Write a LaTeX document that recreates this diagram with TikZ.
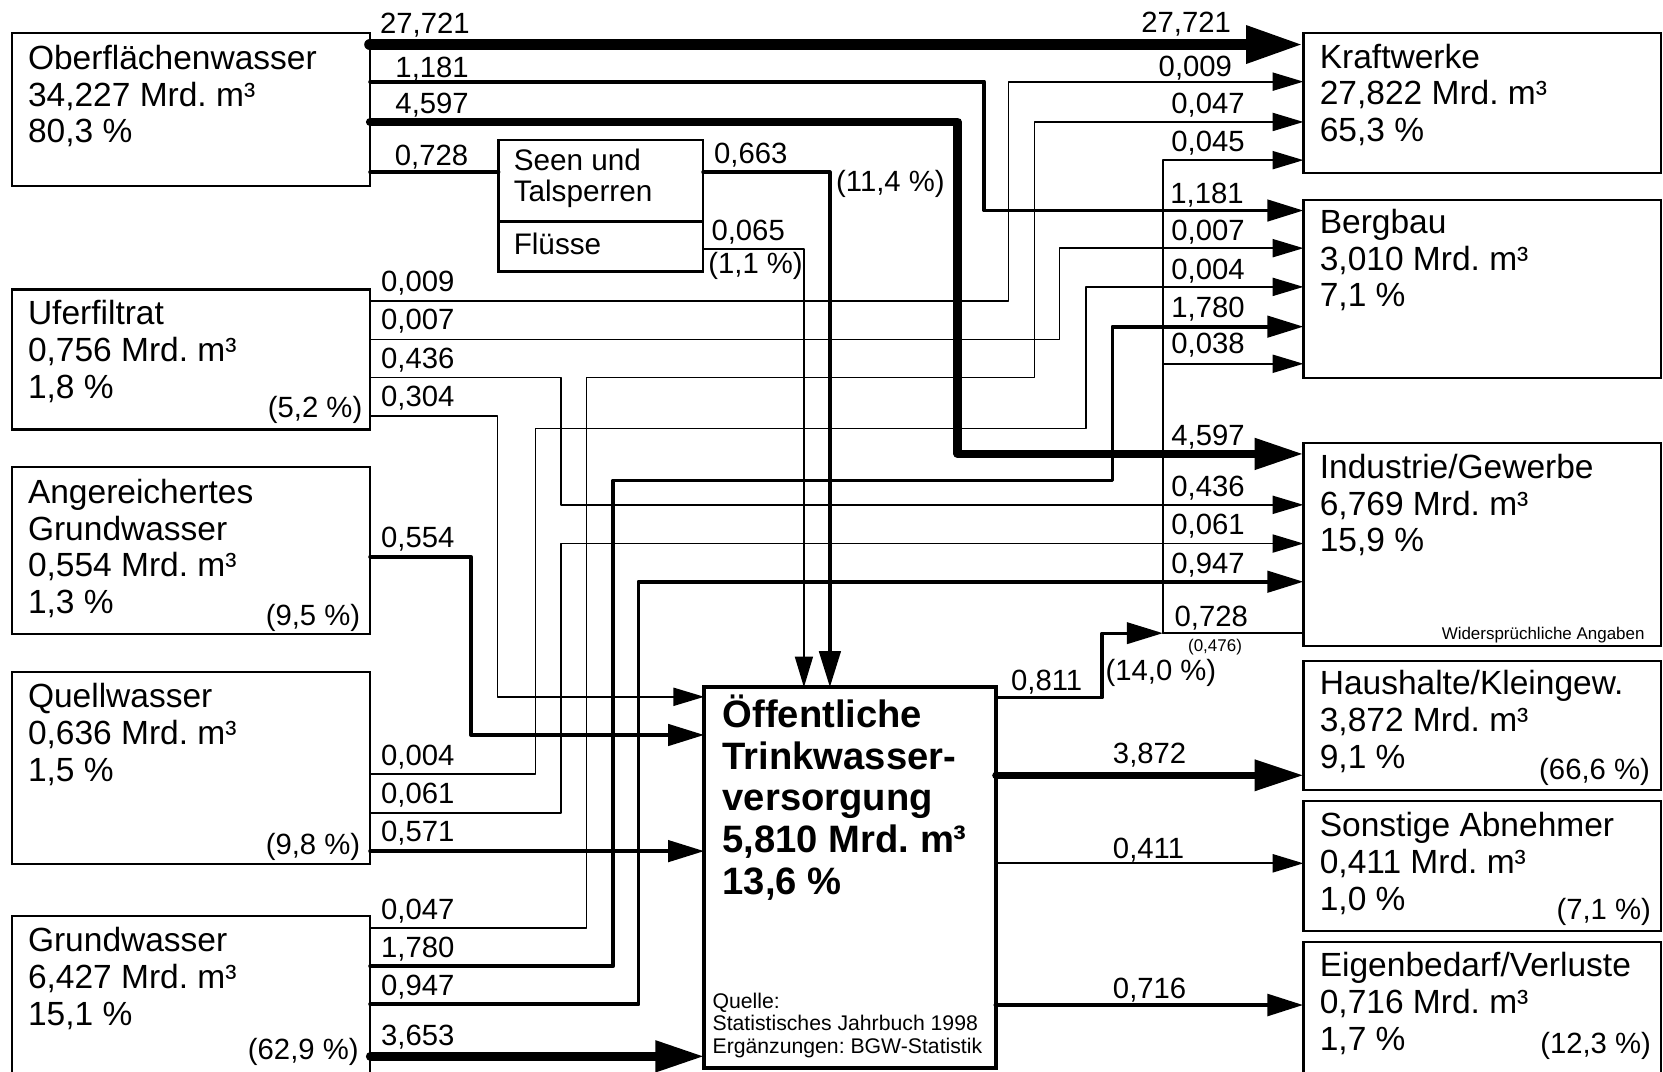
\documentclass[tikz,border=0pt]{standalone}
\usepackage{fontspec}
\setmainfont{Liberation Sans}
\usetikzlibrary{arrows.meta}
\frenchspacing
\newcommand{\blines}[1]{\begin{tabular}[t]{@{}l@{}}#1\end{tabular}}
\tikzset{
  box/.style={draw, line width=1pt, inner sep=0pt, outer sep=0pt, anchor=north west, minimum width=169pt},
  rbox/.style={box, minimum width=168.5pt},
  btxt/.style={font=\fontsize{15.8}{17.3}\selectfont, inner sep=0pt, anchor=base west},
  lab/.style={font=\fontsize{13.8}{15}\selectfont, inner sep=0pt, anchor=base west},
  labr/.style={lab, anchor=base east},
  smalltxt/.style={font=\fontsize{8}{9}\selectfont, inner sep=0pt},
  cA/.style={line width=0.8pt, line cap=round, line join=round},
  cB/.style={line width=1.8pt, line cap=round, line join=round},
  cC/.style={line width=4pt, line cap=round, line join=round},
  cD/.style={line width=5.6pt, line cap=round, line join=round},
  tA/.style={-{Triangle[length=14.5pt,width=8.5pt]}},
  tB/.style={-{Triangle[length=17pt,width=10pt]}},
  tC/.style={-{Triangle[length=23pt,width=14pt]}},
  tD/.style={-{Triangle[length=27pt,width=16.5pt]}},
}
\begin{document}
\begin{tikzpicture}[x=0.5pt,y=-0.5pt]
\useasboundingbox (0,0) rectangle (1568,1010);
\clip (0,0) rectangle (1568,1010);

% ---------- left boxes ----------
\node[box, minimum height=72pt] (ow) at (11,31) {};
\node[btxt] (owt) at (26,65.4) {\blines{Oberflächenwasser\\34,227 Mrd. m³\\80,3 \%}};
\node[box, minimum height=66pt] (uf) at (11,273) {};
\node[btxt] (uft) at (26,306.4) {\blines{Uferfiltrat\\0,756 Mrd. m³\\1,8 \%}};
\node[box, minimum height=79pt] (ag) at (11,440) {};
\node[btxt] (agt) at (26,474.6) {\blines{Angereichertes\\Grundwasser\\0,554 Mrd. m³\\1,3 \%}};
\node[box, minimum height=90.5pt] (qw) at (11,634) {};
\node[btxt] (qwt) at (26,667.4) {\blines{Quellwasser\\0,636 Mrd. m³\\1,5 \%}};
\node[box, minimum height=90pt] (gw) at (11,864) {};
\node[btxt] (gwt) at (26,897.3) {\blines{Grundwasser\\6,427 Mrd. m³\\15,1 \%}};

\node[labr] (p1) at (342,393.5) {(5,2 \%)};
\node[labr] (p2) at (340,589.3) {(9,5 \%)};
\node[labr] (p3) at (340,806) {(9,8 \%)};
\node[labr] (p4) at (338.5,999.4) {(62,9 \%)};

% ---------- Seen / Fluesse ----------
\node[box, minimum width=96.5pt, minimum height=38.5pt] (st) at (470,132) {};
\node[box, minimum width=96.5pt, minimum height=23.5pt] (fl) at (470,209) {};
\draw[line width=1.6pt] (st.south west) -- (st.south east);
\node[font=\fontsize{14}{15}\selectfont, inner sep=0pt, anchor=base west] (stt) at (484,160.3) {\blines{Seen und\\Talsperren}};
\node[font=\fontsize{14}{15}\selectfont, inner sep=0pt, anchor=base west] (flt) at (484,239.5) {Flüsse};

% ---------- central box ----------
\node[box, line width=2pt, minimum width=137.5pt, minimum height=179.5pt] (oe) at (664,648) {};
\node[font=\bfseries\fontsize{18}{19.65}\selectfont, inner sep=0pt, anchor=base west] (oet) at (681,686)
  {\blines{Öffentliche\\Trinkwasser-\\versorgung\\5,810 Mrd. m³\\13,6 \%}};
\node[font=\fontsize{10}{10.6}\selectfont, inner sep=0pt, anchor=base west] (src) at (671.5,950.7)
  {\blines{Quelle:\\Statistisches Jahrbuch 1998\\Ergänzungen: BGW-Statistik}};

% ---------- right boxes ----------
\node[rbox, minimum height=66pt] (kw) at (1229,31) {};
\node[btxt] (kwt) at (1244,64.4) {\blines{Kraftwerke\\27,822 Mrd. m³\\65,3 \%}};
\node[rbox, minimum height=84pt] (bb) at (1229,188.6) {};
\node[btxt] (bbt) at (1244,220) {\blines{Bergbau\\3,010 Mrd. m³\\7,1 \%}};
\node[rbox, minimum height=96pt] (ig) at (1229,417.4) {};
\node[btxt] (igt) at (1244,451) {\blines{Industrie/Gewerbe\\6,769 Mrd. m³\\15,9 \%}};
\node[smalltxt, anchor=base east] (igw) at (1551,603.4) {Widersprüchliche Angaben};
\node[rbox, minimum height=61pt] (hh) at (1229,623) {};
\node[btxt] (hht) at (1244,655) {\blines{Haushalte/Kleingew.\\3,872 Mrd. m³\\9,1 \%}};
\node[labr] (p5) at (1556,735.4) {(66,6 \%)};
\node[rbox, minimum height=61.2pt] (sa) at (1229,755.2) {};
\node[btxt] (sat) at (1244,788.9) {\blines{Sonstige Abnehmer\\0,411 Mrd. m³\\1,0 \%}};
\node[labr] (p6) at (1557,867.4) {(7,1 \%)};
\node[rbox, minimum height=80pt] (eb) at (1229,888) {};
\node[btxt] (ebt) at (1244,920.9) {\blines{Eigenbedarf/Verluste\\0,716 Mrd. m³\\1,7 \%}};
\node[labr] (p7) at (1557,993) {(12,3 \%)};

% ---------- junctions ----------
\coordinate (j1) at (1096.5,597);
\coordinate (j2) at (1096.5,343);

% ---------- connectors: Oberflaechenwasser ----------
\draw[cD, tD] (ow.east |- 0,42) -- (kw.west |- 0,42);
\draw[cB, tB] (ow.east |- 0,77) -- (928,77) -- (928,198.5) -- (bb.west |- 0,198.5);
\draw[cC, tC] (ow.east |- 0,115) -- (903,115) -- (903,428) -- (ig.west |- 0,428);
\draw[cB] (ow.east |- 0,162.5) -- (st.west |- 0,162.5);
\draw[cB, tB] (st.east |- 0,162.5) -- (782.5,162.5) -- (oe.north -| 782.5,0);
\draw[cA, tA] (fl.east |- 0,235) -- (758,235) -- (oe.north -| 758,0);

% ---------- Uferfiltrat ----------
\draw[cA, tA] (uf.east |- 0,283.5) -- (951,283.5) -- (951,77) -- (kw.west |- 0,77);
\draw[cA, tA] (uf.east |- 0,320) -- (999,320) -- (999,234) -- (bb.west |- 0,234);
\draw[cA, tA] (uf.east |- 0,356) -- (529,356) -- (529,476) -- (ig.west |- 0,476);
\draw[cA, tA] (uf.east |- 0,392) -- (469,392) -- (469,657) -- (oe.west |- 0,657);

% ---------- Angereichertes Grundwasser ----------
\draw[cB, tB] (ag.east |- 0,525) -- (444,525) -- (444,693) -- (oe.west |- 0,693);

% ---------- Quellwasser ----------
\draw[cA, tA] (qw.east |- 0,730) -- (505,730) -- (505,404) -- (1024,404) -- (1024,270.5) -- (bb.west |- 0,270.5);
\draw[cA, tA] (qw.east |- 0,766.5) -- (529,766.5) -- (529,512.5) -- (ig.west |- 0,512.5);
\draw[cB, tB] (qw.east |- 0,802.5) -- (oe.west |- 0,802.5);

% ---------- Grundwasser ----------
\draw[cA, tA] (gw.east |- 0,875) -- (553,875) -- (553,356) -- (975.5,356) -- (975.5,115) -- (kw.west |- 0,115);
\draw[cB, tB] (gw.east |- 0,911) -- (578,911) -- (578,453) -- (1049,453) -- (1049,308) -- (bb.west |- 0,308);
\draw[cB, tB] (gw.east |- 0,947) -- (602,947) -- (602,548.5) -- (ig.west |- 0,548.5);
\draw[cC, tC] (gw.east |- 0,996) -- (oe.west |- 0,996);

% ---------- outputs of central box ----------
\draw[cB, line width=1.5pt, tB] (oe.east |- 0,658) -- (1039,658) -- (1039,597) -- (j1);
\draw[cA] (ig.west |- 0,597) -- (j1);
\draw[cA, tA] (j1) -- (1096.5,151) -- (kw.west |- 0,151);
\draw[cA, tA] (j2) -- (bb.west |- 0,343);
\draw[cC, line width=3.5pt, tC] (oe.east |- 0,731) -- (hh.west |- 0,731);
\draw[cA, line width=1pt, tA] (oe.east |- 0,814) -- (sa.west |- 0,814);
\draw[cB, line width=2.3pt, tB] (oe.east |- 0,947.6) -- (eb.west |- 0,947.6);

% ---------- labels left ----------
\node[lab] (l1) at (358,31.4) {27,721};
\node[lab] (l2) at (372.5,73) {1,181};
\node[lab] (l3) at (372.5,107) {4,597};
\node[lab] (l4) at (372,155.6) {0,728};
\node[lab] (l5) at (673,154) {0,663};
\node[lab] (l6) at (788,180.7) {(11,4 \%)};
\node[lab] (l7) at (670.5,226.3) {0,065};
\node[lab] (l8) at (667.5,257.7) {(1,1 \%)};
\node[lab] (l9) at (359,275) {0,009};
\node[lab] (l10) at (359,311) {0,007};
\node[lab] (l11) at (359,347.3) {0,436};
\node[lab] (l12) at (359,383) {0,304};
\node[lab] (l13) at (359,516) {0,554};
\node[lab] (l14) at (359,721.3) {0,004};
\node[lab] (l15) at (359,757.4) {0,061};
\node[lab] (l16) at (359,793.6) {0,571};
\node[lab] (l17) at (359,866.8) {0,047};
\node[lab] (l18) at (359,903) {1,780};
\node[lab] (l19) at (359,939) {0,947};
\node[lab] (l20) at (359,986.2) {3,653};

% ---------- labels right ----------
\node[labr] (r1) at (1161,30.8) {27,721};
\node[labr] (r2) at (1162,71.7) {0,009};
\node[labr] (r3) at (1174,106.8) {0,047};
\node[labr] (r4) at (1174,143) {0,045};
\node[labr] (r5) at (1173,191.7) {1,181};
\node[labr] (r6) at (1174,227) {0,007};
\node[labr] (r7) at (1174,263.4) {0,004};
\node[labr] (r8) at (1174,299.2) {1,780};
\node[labr] (r9) at (1174,333.1) {0,038};
\node[labr] (r10) at (1174,420.5) {4,597};
\node[labr] (r11) at (1174,467.7) {0,436};
\node[labr] (r12) at (1174,504.4) {0,061};
\node[labr] (r13) at (1174,540.6) {0,947};
\node[labr] (r14) at (1177,591) {0,728};
\node[smalltxt] (r15) at (1145.6,610.3) {(0,476)};
\node[lab] (r16) at (953,650.6) {0,811};
\node[lab] (r17) at (1042,641.7) {(14,0 \%)};
\node[lab] (r18) at (1049,719.7) {3,872};
\node[lab] (r19) at (1049,809.3) {0,411};
\node[lab] (r20) at (1049,941.3) {0,716};
\end{tikzpicture}
\end{document}
